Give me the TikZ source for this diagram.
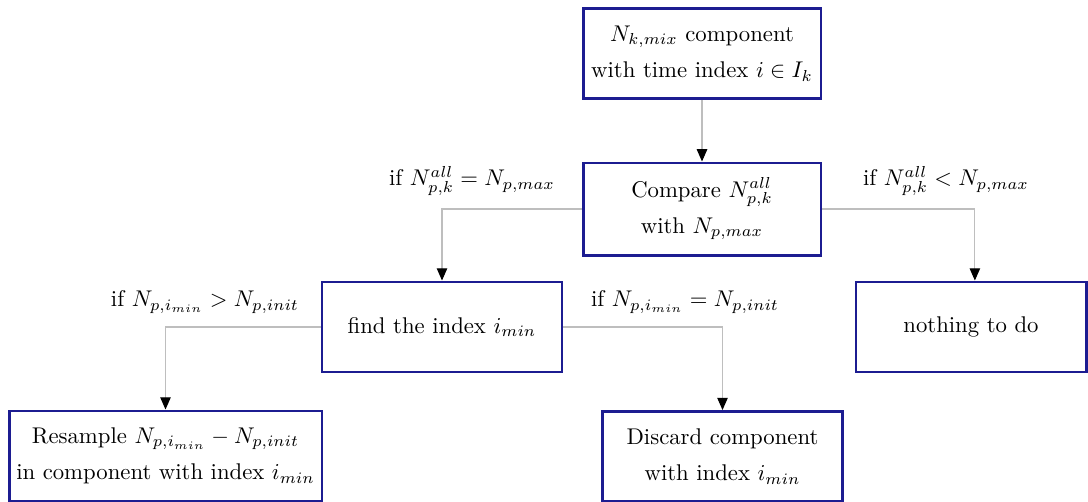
\documentclass[tikz,border=0pt]{standalone}
\usetikzlibrary{arrows.meta}
\definecolor{boxblue}{RGB}{28,28,145}
\definecolor{linegray}{RGB}{190,190,190}
\tikzset{
  box/.style={draw=boxblue, line width=1.3pt, fill=white, align=center, inner sep=2pt},
  conn/.style={draw=linegray, line width=0.5pt, -{Triangle[color=black,width=4.6pt,length=5.4pt]}},
  lbl/.style={inner sep=1pt}
}
\begin{document}
\begin{tikzpicture}[x=0.44pt,y=-0.44pt]
\useasboundingbox (0,0) rectangle (1088,501);
\node[box, minimum width=104.7pt, minimum height=40pt] (top) at (702,53.5) {$N_{k,mix}$ component\\[4pt] with time index $i\in I_k$};
\node[box, minimum width=104.7pt, minimum height=40.5pt] (cmp) at (702,209) {Compare $N^{all}_{p,k}$\\[4pt] with $N_{p,max}$};
\node[box, minimum width=105.6pt, minimum height=39.6pt] (find) at (442,327) {find the index $i_{min}$};
\node[box, minimum width=101.2pt, minimum height=39.6pt] (none) at (971,327) {nothing to do};
\node[box, minimum width=137.7pt, minimum height=39.6pt] (res) at (165.5,456) {Resample $N_{p,i_{min}}-N_{p,init}$\\[4pt] in component with index $i_{min}$};
\node[box, minimum width=105.2pt, minimum height=39.6pt] (dis) at (722.5,456.5) {Discard component\\[4pt] with index $i_{min}$};

\node[lbl] (l1) at (472,181) {if $N^{all}_{p,k}=N_{p,max}$};
\node[lbl] (l2) at (946,181) {if $N^{all}_{p,k}<N_{p,max}$};
\node[lbl] (l3) at (205,302) {if $N_{p,i_{min}}>N_{p,init}$};
\node[lbl] (l4) at (685,302) {if $N_{p,i_{min}}=N_{p,init}$};

\draw[conn] (top) -- (cmp);
\draw[conn] (cmp.west) -| (find.north);
\draw[conn] (cmp.east) -| ([xshift=1.7pt]none.north);
\draw[conn] (find.west) -| (res.north);
\draw[conn] (find.east) -| (dis.north);
\end{tikzpicture}
\end{document}
